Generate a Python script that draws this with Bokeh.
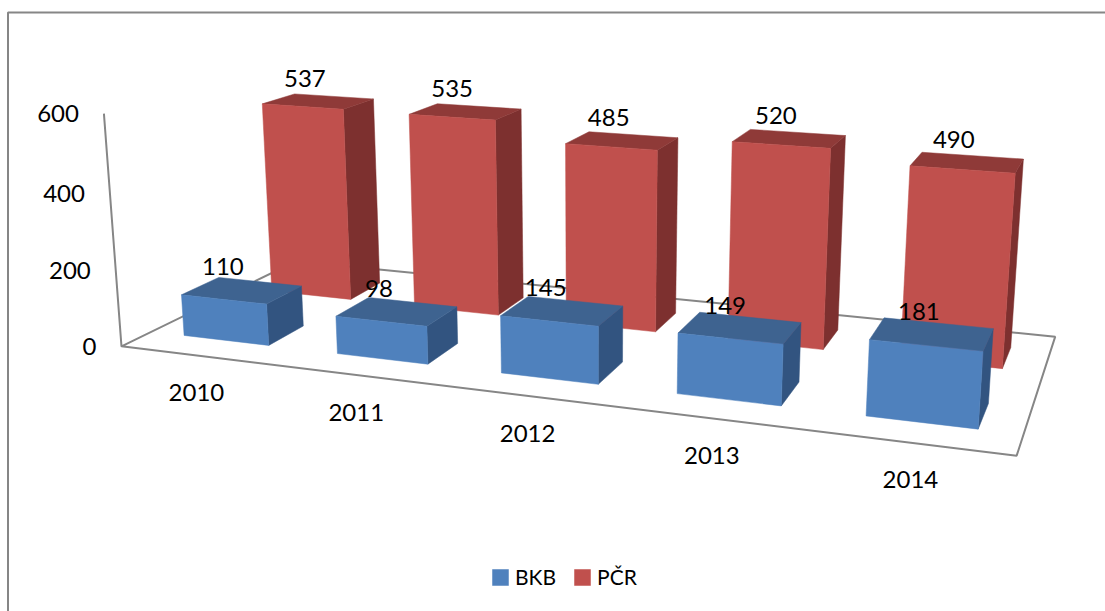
import numpy as np
from bokeh.core.properties import value
from bokeh.embed import file_html
from bokeh.models import Legend, LegendItem, Range1d
from bokeh.plotting import figure
from bokeh.resources import INLINE

# ---- data -------------------------------------------------------------
years = ["2010", "2011", "2012", "2013", "2014"]
bkb = [110, 98, 145, 149, 181]
pcr = [537, 535, 485, 520, 490]
y_ticks = [0, 200, 400, 600]
series_names = ["BKB", "PČR"]

# ---- style ------------------------------------------------------------
BLUE = ("#4F81BD", "#3E6390", "#325480")   # front, top, side
RED = ("#C0504D", "#8F3A38", "#7D302F")
AXIS = "#868686"
FONT = value("Lato")
TEXT = "#000000"

# ---- the 3-D scene: category (0..5), series depth (0..2), value --------
CAMERA = np.array([
    [145.34144534, 114.96873617, -0.03545145, 120.97680203],
    [6.76859715, -18.1084714, -0.39459937, 345.84589542],
    [-0.03315804, 0.09375248, -0.00005989, 1.0],
])
GAP_X = 0.22
GAP_Y = 0.30


def project(x, y, z):
    h = CAMERA @ np.array([x, y, z, 1.0])
    return h[0] / h[2], h[1] / h[2]


def faces(values, depth):
    front, top, side = ([], []), ([], []), ([], [])
    for i, v in enumerate(values):
        x0, x1 = i + GAP_X, i + 1 - GAP_X
        y0, y1 = depth + GAP_Y, depth + 1 - GAP_Y
        for out, quad in (
            (front, [(x0, y0, 0), (x1, y0, 0), (x1, y0, v), (x0, y0, v)]),
            (top, [(x0, y0, v), (x1, y0, v), (x1, y1, v), (x0, y1, v)]),
            (side, [(x1, y0, 0), (x1, y1, 0), (x1, y1, v), (x1, y0, v)]),
        ):
            pts = [project(*q) for q in quad]
            out[0].append([p[0] for p in pts])
            out[1].append([p[1] for p in pts])
    return front, top, side


W, H = 1105, 611
p = figure(
    width=W, height=H, output_backend="svg", toolbar_location=None,
    x_range=Range1d(0, W), y_range=Range1d(H, 0),
    x_axis_type=None, y_axis_type=None, min_border=0,
    outline_line_color=None,
)
p.grid.visible = False

# chart frame (only the top and left edges fall inside the picture)
p.line(x=[7.5, 7.5, W], y=[H, 12, 12], line_color=AXIS, line_width=2)

# floor and value axis
fl = [project(0, 0, 600), project(0, 0, 0), project(5, 0, 0), project(5, 2, 0),
      project(0, 2, 0), project(0, 0, 0)]
p.line(x=[q[0] for q in fl], y=[q[1] for q in fl], line_color=AXIS, line_width=2)

# bars, back series first
legend_items = []
for name, vals, depth, col in ((series_names[1], pcr, 1, RED), (series_names[0], bkb, 0, BLUE)):
    f, t, s = faces(vals, depth)
    for quad, c in ((s, col[2]), (t, col[1])):
        p.patches(xs=quad[0], ys=quad[1], fill_color=c, line_color=c, line_width=0.5)
    r = p.patches(xs=f[0], ys=f[1], fill_color=col[0], line_color=col[0], line_width=0.5)
    legend_items.insert(0, LegendItem(label=name, renderers=[r]))

# data labels, anchored on each bar's top
for vals, depth, dx, dy in ((pcr, 1.5, -13.5, -23), (bkb, 0.4, -10, -28)):
    anchors = [project(i + 0.5, depth, v) for i, v in enumerate(vals)]
    p.text(x=[a[0] for a in anchors], y=[a[1] for a in anchors], text=[str(v) for v in vals],
           text_font=FONT, text_font_size="24px", text_color=TEXT,
           text_align="center", text_baseline="middle", x_offset=dx, y_offset=dy)

# category labels
cp = [project(i + 0.5, 0, 0) for i in range(len(years))]
p.text(x=[q[0] for q in cp], y=[q[1] for q in cp], text=years, text_font=FONT,
       text_font_size="24px", text_color=TEXT, text_align="center",
       text_baseline="middle", x_offset=-1, y_offset=37)

# value-axis labels
tp = [project(0, 0, t) for t in y_ticks]
p.text(x=[q[0] for q in tp], y=[q[1] for q in tp], text=[str(t) for t in y_ticks],
       text_font=FONT, text_font_size="24px", text_color=TEXT, text_align="right",
       text_baseline="middle", x_offset=-25, y_offset=0)

legend = Legend(
    items=legend_items, orientation="horizontal", location=(490, 22),
    border_line_color=None, background_fill_alpha=0, margin=0, padding=0,
    glyph_width=20, glyph_height=20, spacing=16, label_standoff=5,
    label_text_font="Lato", label_text_font_size="21px", label_text_color=TEXT,
)
p.add_layout(legend, "center")

open("out.html", "w").write(file_html(p, INLINE))
